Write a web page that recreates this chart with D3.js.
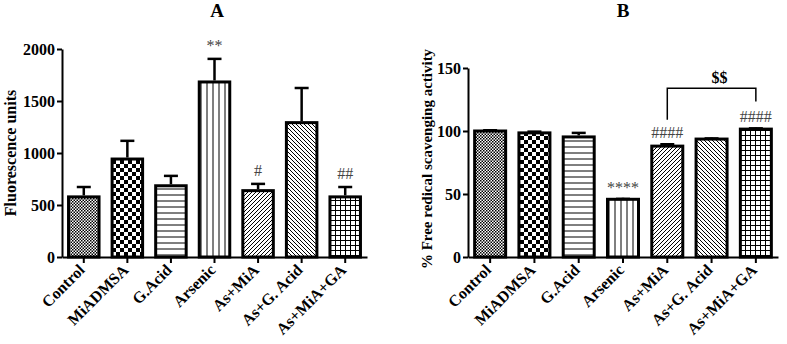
<!DOCTYPE html>
<html>
<head>
<meta charset="utf-8">
<script src="https://cdn.jsdelivr.net/npm/d3@7"></script>
<style>
  body { margin: 0; background: #fff; }
  svg text { font-family: "Liberation Serif", "Times New Roman", serif; }
</style>
</head>
<body>
<script>
// data
const groups = ["Control", "MiADMSA", "G.Acid", "Arsenic", "As+MiA", "As+G. Acid", "As+MiA+GA"];
const patternIds = ["pFine", "pChecker", "pHoriz", "pVert", "pDiagUp", "pDiagDown", "pGrid"];

const fluoMean = [578, 942, 685, 1683, 638, 1292, 578];
const fluoErr  = [95, 175, 95, 222, 65, 333, 95];
const fluoSig  = ["", "", "", "**", "#", "", "##"];
const fluoTicks = [0, 500, 1000, 1500, 2000];

const scavMean = [100, 98.5, 95.3, 45.8, 88, 93.6, 101.5];
const scavErr  = [0.6, 1.0, 3.2, 0.3, 1.5, 0.5, 0.6];
const scavSig  = ["", "", "", "****", "####", "", "####"];
const scavTicks = [0, 50, 100, 150];

const svg = d3.select("body").append("svg")
    .attr("width", 787)
    .attr("height", 344);

// patterns
const defs = svg.append("defs");
function pat(id, size) {
  return defs.append("pattern")
    .attr("id", id)
    .attr("patternUnits", "userSpaceOnUse")
    .attr("width", size).attr("height", size);
}
let p = pat("pFine", 3);
p.append("rect").attr("width", 3).attr("height", 3).attr("fill", "#fff");
p.append("rect").attr("width", 1.5).attr("height", 1.5).attr("fill", "#000");
p.append("rect").attr("x", 1.5).attr("y", 1.5).attr("width", 1.5).attr("height", 1.5).attr("fill", "#000");

p = pat("pChecker", 8);
p.append("rect").attr("width", 8).attr("height", 8).attr("fill", "#fff");
p.append("rect").attr("width", 4).attr("height", 4).attr("fill", "#000");
p.append("rect").attr("x", 4).attr("y", 4).attr("width", 4).attr("height", 4).attr("fill", "#000");

p = pat("pHoriz", 6);
p.append("rect").attr("width", 6).attr("height", 6).attr("fill", "#fff");
p.append("line").attr("x1", 0).attr("x2", 6).attr("y1", 3).attr("y2", 3).attr("stroke", "#000").attr("stroke-width", 1);

p = pat("pVert", 6);
p.append("rect").attr("width", 6).attr("height", 6).attr("fill", "#fff");
p.append("line").attr("y1", 0).attr("y2", 6).attr("x1", 3).attr("x2", 3).attr("stroke", "#000").attr("stroke-width", 1);

p = pat("pDiagUp", 4);
p.append("rect").attr("width", 4).attr("height", 4).attr("fill", "#fff");
p.append("path").attr("d", "M-1,1 L1,-1 M0,4 L4,0 M3,5 L5,3").attr("stroke", "#000").attr("stroke-width", 1);

p = pat("pDiagDown", 4);
p.append("rect").attr("width", 4).attr("height", 4).attr("fill", "#fff");
p.append("path").attr("d", "M-1,3 L1,5 M0,0 L4,4 M3,-1 L5,1").attr("stroke", "#000").attr("stroke-width", 1);

p = pat("pGrid", 5);
p.append("rect").attr("width", 5).attr("height", 5).attr("fill", "#fff");
p.append("path").attr("d", "M0,0.5 H5 M0.5,0 V5").attr("stroke", "#000").attr("stroke-width", 1);

function drawPanel(opts) {
  const g = svg.append("g");
  const x = d3.scaleBand()
      .domain(groups)
      .range([opts.x0, opts.x1])
      .paddingInner(0.3)
      .paddingOuter(0.15);
  const y = d3.scaleLinear()
      .domain(opts.domain)
      .range([opts.y0, opts.y1]);

  // title
  g.append("text")
    .attr("x", opts.titleX).attr("y", 17)
    .attr("text-anchor", "middle")
    .attr("font-size", 19).attr("font-weight", "bold")
    .text(opts.title);

  // bars
  g.selectAll(".bar").data(groups).join("rect")
    .attr("x", d => x(d))
    .attr("y", (d, i) => y(opts.mean[i]))
    .attr("width", x.bandwidth())
    .attr("height", (d, i) => y(0) - y(opts.mean[i]))
    .attr("fill", (d, i) => "url(#" + patternIds[i] + ")")
    .attr("stroke", "#000")
    .attr("stroke-width", 3);

  // error bars
  const eb = g.selectAll(".err").data(groups).join("g");
  eb.append("line")
    .attr("x1", d => x(d) + x.bandwidth() / 2)
    .attr("x2", d => x(d) + x.bandwidth() / 2)
    .attr("y1", (d, i) => y(opts.mean[i]) - 1.5)
    .attr("y2", (d, i) => y(opts.mean[i] + opts.err[i]))
    .attr("stroke", "#000").attr("stroke-width", 2.5);
  eb.append("line")
    .attr("x1", d => x(d) + x.bandwidth() / 2 - 7)
    .attr("x2", d => x(d) + x.bandwidth() / 2 + 7)
    .attr("y1", (d, i) => y(opts.mean[i] + opts.err[i]))
    .attr("y2", (d, i) => y(opts.mean[i] + opts.err[i]))
    .attr("stroke", "#000").attr("stroke-width", 2.5);

  // significance marks
  g.selectAll(".sig").data(groups).join("text")
    .attr("x", d => x(d) + x.bandwidth() / 2)
    .attr("y", (d, i) => y(opts.mean[i] + opts.err[i]) - opts.sigGap)
    .attr("text-anchor", "middle")
    .attr("font-size", 16)
    .attr("fill", "#444")
    .text((d, i) => opts.sig[i]);

  // axes
  const yAxis = g.append("g")
    .attr("transform", "translate(" + opts.x0 + ",0)")
    .call(d3.axisLeft(y).tickValues(opts.ticks).tickFormat(d3.format("d")).tickSize(5).tickSizeOuter(0));
  yAxis.select(".domain").attr("stroke-width", 2);
  yAxis.selectAll(".tick line").attr("stroke-width", 2);
  yAxis.selectAll("text")
    .attr("font-size", 16).attr("font-weight", "bold").attr("fill", "#000")
    .attr("x", -7);

  const xAxis = g.append("g")
    .attr("transform", "translate(0," + opts.y0 + ")")
    .call(d3.axisBottom(x).tickSize(6).tickSizeOuter(0));
  xAxis.select(".domain").attr("stroke-width", 2);
  xAxis.selectAll(".tick line").attr("stroke-width", 2);
  xAxis.selectAll("text")
    .attr("font-size", 16).attr("font-weight", "bold").attr("fill", "#000")
    .attr("text-anchor", "end")
    .attr("x", 0).attr("y", 0)
    .attr("dy", "0.35em")
    .attr("transform", "translate(-2,10) rotate(-45)");

  // y label
  g.append("text")
    .attr("transform", "translate(" + opts.labelX + "," + opts.labelY + ") rotate(-90)")
    .attr("text-anchor", "middle")
    .attr("font-size", opts.labelSize).attr("font-weight", "bold")
    .text(opts.yLabel);

  return { g, x, y };
}

drawPanel({
  title: "A", titleX: 217,
  x0: 62, x1: 367, y0: 257, y1: 49,
  domain: [0, 2000], ticks: fluoTicks,
  mean: fluoMean, err: fluoErr, sig: fluoSig, sigGap: 8,
  yLabel: "Fluorescence units", labelX: 16, labelY: 153, labelSize: 16
});

const B = drawPanel({
  title: "B", titleX: 623,
  x0: 468, x1: 778, y0: 257, y1: 68,
  domain: [0, 150], ticks: scavTicks,
  mean: scavMean, err: scavErr, sig: scavSig, sigGap: 6,
  yLabel: "% Free redical scavenging activity", labelX: 432, labelY: 159, labelSize: 15
});

// $$ bracket between As+MiA and As+MiA+GA
const bx1 = B.x("As+MiA") + B.x.bandwidth() / 2;
const bx2 = B.x("As+MiA+GA") + B.x.bandwidth() / 2;
B.g.append("path")
  .attr("d", "M" + bx1 + "," + B.y(109) + " V" + B.y(134) + " H" + bx2 + " V" + B.y(123.5))
  .attr("fill", "none").attr("stroke", "#000").attr("stroke-width", 1.5);
B.g.append("text")
  .attr("x", (bx1 + bx2) / 2 + 8).attr("y", B.y(138))
  .attr("text-anchor", "middle")
  .attr("font-size", 16).attr("font-weight", "bold")
  .text("$$");
</script>
</body>
</html>
